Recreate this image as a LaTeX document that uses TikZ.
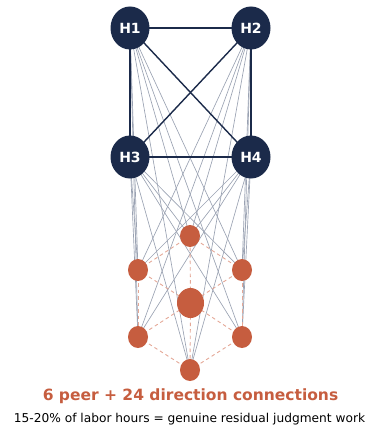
\documentclass[tikz,border=0pt]{standalone}
\usepackage{fontspec}
\setmainfont{DejaVu Sans}
\usetikzlibrary{shapes.geometric,backgrounds}
\definecolor{hubc}{HTML}{1B2A4A}
\definecolor{orc}{HTML}{C65D3F}
\definecolor{dashc}{HTML}{E4A897}
\definecolor{grayl}{HTML}{9AA2B2}
\tikzset{
  hub/.style={ellipse, fill=hubc, minimum width=39pt, minimum height=43pt, inner sep=0pt, text=white, font=\fontsize{14}{16}\selectfont\bfseries},
  dnode/.style={ellipse, fill=orc, minimum width=20pt, minimum height=22pt, inner sep=0pt},
  cnode/.style={ellipse, fill=orc, minimum width=27pt, minimum height=30pt, inner sep=0pt},
  peer/.style={draw=hubc, line width=1.4pt},
  dirl/.style={draw=grayl, line width=0.65pt},
  meshl/.style={draw=dashc, line width=0.9pt, dash pattern=on 3.5pt off 3pt},
}
\begin{document}
\begin{tikzpicture}[x=1pt,y=-1pt]
\useasboundingbox (0,0) rectangle (368,428);
\node[hub] (H1) at (130,28) {H1};
\node[hub] (H2) at (251,28) {H2};
\node[hub] (H3) at (130,157) {H3};
\node[hub] (H4) at (251,157) {H4};
\node[dnode] (T) at (190,236) {};
\node[dnode] (L) at (138,270) {};
\node[dnode] (R) at (242,270) {};
\node[cnode] (C) at (190.5,303) {};
\node[dnode] (LL) at (138,337) {};
\node[dnode] (LR) at (242,337) {};
\node[dnode] (B) at (190,370) {};
\begin{scope}[on background layer]
  \foreach \h in {H1,H2,H3,H4}{
    \foreach \d in {T,L,R,LL,LR,B}{
      \draw[dirl] (\h.center) -- (\d.center);
    }
  }
  \foreach \a/\b in {T/L,T/R,L/LL,R/LR,LL/B,LR/B,C/T,C/L,C/R,C/LL,C/LR,C/B}{
    \draw[meshl] (\a.center) -- (\b.center);
  }
  \foreach \a/\b in {H1/H2,H1/H3,H1/H4,H2/H3,H2/H4,H3/H4}{
    \draw[peer] (\a.center) -- (\b.center);
  }
\end{scope}
\node[text=orc, font=\fontsize{15.5}{18}\selectfont\bfseries] (title) at (190.5,396) {6 peer + 24 direction connections};
\node[text=black, font=\fontsize{12.2}{14}\selectfont] (sub) at (189.5,419) {15-20\% of labor hours = genuine residual judgment work};
\end{tikzpicture}
\end{document}
